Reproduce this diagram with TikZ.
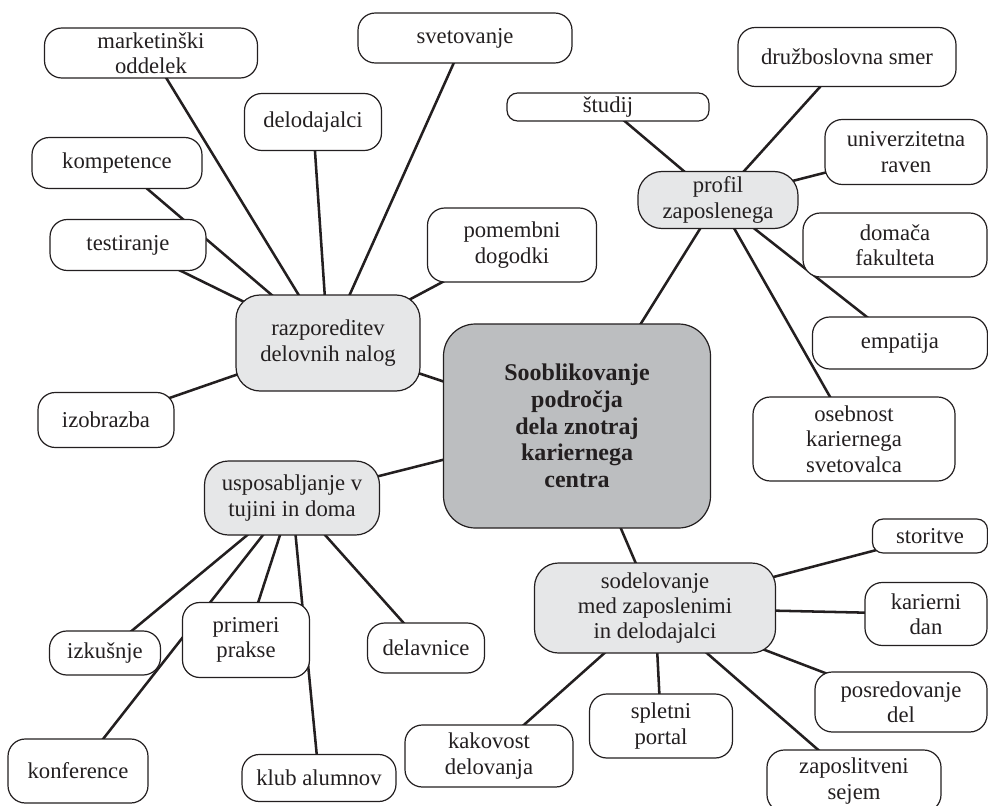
\documentclass[tikz,border=0pt]{standalone}
\usepackage{fontspec}
\setmainfont{Liberation Serif}
\usetikzlibrary{backgrounds}
\definecolor{ink}{HTML}{231F20}
\definecolor{hubfill}{HTML}{E6E7E8}
\definecolor{corefill}{HTML}{BCBEC0}
\tikzset{
  sz/.style 2 args={minimum width=#1*0.75pt, minimum height=#2*0.75pt},
  box/.style={draw=ink, line width=0.9pt, inner sep=0pt, align=center, text=ink,
    font=\fontsize{17}{19}\selectfont},
  leaf/.style={box, fill=white, rounded corners=13pt},
  smallleaf/.style={box, fill=white, rounded corners=8pt},
  hub/.style={box, fill=hubfill, rounded corners=18pt},
  core/.style={box, fill=corefill, rounded corners=24pt,
    font=\fontsize{18}{20}\selectfont\bfseries},
  link/.style={draw=ink, line width=1.9pt}
}
\begin{document}
\begin{tikzpicture}[x=0.75pt,y=-0.75pt]
\useasboundingbox (0,0) rectangle (988,806);
% hubs
\node[core, sz={267}{204}] (core) at (577,426) {Sooblikovanje\\področja\\dela znotraj\\kariernega\\centra};
\node[hub, sz={184}{96}] (raz) at (328,343) {razporeditev\\delovnih nalog};
\node[hub, sz={175}{74}] (usp) at (292,498) {usposabljanje v\\tujini in doma};
\node[hub, sz={160}{57}] (pro) at (718,200) {profil\\zaposlenega};
\node[hub, sz={241}{90}] (sod) at (655,608) {sodelovanje\\med zaposlenimi\\in delodajalci};
% leaves of razporeditev
\node[leaf, sz={213}{50}] (mark) at (151,53) {marketinški\\oddelek};
\node[leaf, sz={137}{57}] (delo) at (313,122) {delodajalci};
\node[leaf, sz={170}{51}] (komp) at (117,163) {kompetence};
\node[leaf, sz={156}{51}] (test) at (128,245) {testiranje};
\node[leaf, sz={214}{50}] (svet) at (465,38) {svetovanje};
\node[leaf, sz={169}{74}] (pome) at (512,245) {pomembni\\dogodki};
\node[leaf, sz={136}{55}] (izob) at (106,420) {izobrazba};
% leaves of profil
\node[leaf, sz={218}{59}] (druz) at (847,57) {družboslovna smer};
\node[smallleaf, sz={202}{28}] (stud) at (608,107) {študij};
\node[leaf, sz={162}{65}] (univ) at (906,152) {univerzitetna\\raven};
\node[leaf, sz={184}{64}] (doma) at (895,245) {domača\\fakulteta};
\node[leaf, sz={175}{52}] (empa) at (900,343) {empatija};
\node[leaf, sz={202}{84}] (oseb) at (854,439) {osebnost\\kariernega\\svetovalca};
% leaves of usposabljanje
\node[leaf, sz={111}{44}] (izku) at (105,653) {izkušnje};
\node[leaf, sz={127}{75}] (prim) at (246,640) {primeri\\prakse};
\node[leaf, sz={117}{50}] (delv) at (426,648) {delavnice};
\node[leaf, sz={140}{64}] (konf) at (78,771) {konference};
\node[leaf, sz={154}{47}] (klub) at (319,778) {klub alumnov};
% leaves of sodelovanje
\node[smallleaf, sz={115}{34}] (stor) at (930,536) {storitve};
\node[leaf, sz={122}{63}] (kard) at (926,614) {karierni\\dan};
\node[leaf, sz={172}{60}] (posr) at (901,702) {posredovanje\\del};
\node[leaf, sz={174}{62}] (zapo) at (854,781) {zaposlitveni\\sejem};
\node[leaf, sz={143}{64}] (sple) at (661,726) {spletni\\portal};
\node[leaf, sz={168}{62}] (kako) at (489,756) {kakovost\\delovanja};
% connectors
\begin{scope}[on background layer]
\foreach \a/\b in {core/raz, core/usp, core/pro, core/sod,
  raz/mark, raz/delo, raz/komp, raz/test, raz/svet, raz/pome, raz/izob,
  pro/druz, pro/stud, pro/univ, pro/empa, pro/oseb,
  usp/izku, usp/prim, usp/delv, usp/konf, usp/klub,
  sod/stor, sod/kard, sod/posr, sod/zapo, sod/sple, sod/kako}
  \draw[link] (\a.center) -- (\b.center);
\end{scope}
\end{tikzpicture}
\end{document}
